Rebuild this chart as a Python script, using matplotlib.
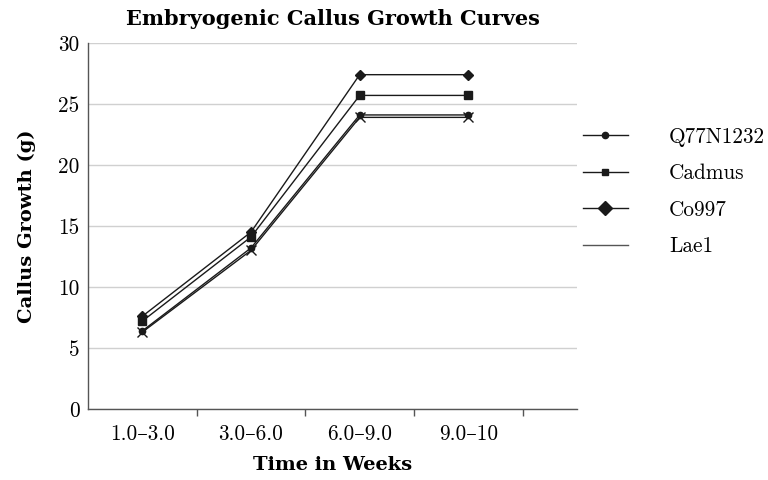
import matplotlib
matplotlib.use("Agg")
import matplotlib.pyplot as plt
from matplotlib.lines import Line2D

# ---- data ----
periods = ["1.0\u20133.0", "3.0\u20136.0", "6.0\u20139.0", "9.0\u201310"]
q77n1232 = [6.4, 13.2, 24.1, 24.1]
cadmus = [7.2, 14.1, 25.7, 25.7]
co997 = [7.6, 14.5, 27.4, 27.4]
lae1 = [6.3, 13.0, 23.9, 23.9]
y_ticks = [0, 5, 10, 15, 20, 25, 30]

REG = ["cmr10", "DejaVu Serif"]
BOLD = ["DejaVu Serif"]
LINE = "#1a1a1a"
FS = 15.3

plt.rcParams["font.family"] = REG
plt.rcParams["axes.unicode_minus"] = False

fig = plt.figure(figsize=(7.68, 4.8), dpi=100)
ax = fig.add_axes([0.1146, 0.148, 0.6367, 0.7625])

x = list(range(len(periods)))
series = [
    ("Q77N1232", q77n1232, "o", 4.5),
    ("Cadmus", cadmus, "s", 5.5),
    ("Co997", co997, "D", 5.5),
    ("Lae1", lae1, "x", 7),
]
for name, vals, mk, ms in series:
    ax.plot(x, vals, color=LINE, lw=1.0, marker=mk, markersize=ms,
            markeredgewidth=1.0, markerfacecolor=LINE, markeredgecolor=LINE,
            zorder=3)

ax.set_xlim(-0.5, 4.0)
ax.set_ylim(0, 30)
ax.set_yticks(y_ticks)
ax.set_yticklabels([str(v) for v in y_ticks], fontsize=FS, family=REG)
ax.set_xticks(x)
ax.set_xticklabels(periods, fontsize=FS, family=REG)
ax.set_xticks([i + 0.5 for i in x], minor=True)
ax.tick_params(axis="x", which="major", length=0, pad=11)
ax.tick_params(axis="x", which="minor", length=5, width=1, color="#555555")
ax.tick_params(axis="y", length=0, pad=6)

ax.grid(axis="y", color="#d0d0d0", lw=1)
ax.set_axisbelow(True)
for s in ("top", "right"):
    ax.spines[s].set_visible(False)
for s in ("left", "bottom"):
    ax.spines[s].set_color("#555555")
    ax.spines[s].set_linewidth(1)

ax.set_title("Embryogenic Callus Growth Curves", family=BOLD, fontsize=15,
             fontweight="bold", pad=13)
ax.set_xlabel("Time in Weeks", family=BOLD, fontsize=14, fontweight="bold",
              labelpad=9)
ax.set_ylabel("Callus Growth (g)", family=BOLD, fontsize=14,
              fontweight="bold", labelpad=16)

handles = [
    Line2D([], [], color=LINE, lw=1, marker="o", markersize=4.5),
    Line2D([], [], color=LINE, lw=1, marker="s", markersize=5),
    Line2D([], [], color=LINE, lw=1, marker="D", markersize=7),
    Line2D([], [], color="#555555", lw=1),
]
fig.legend(handles, [s[0] for s in series], loc="upper left",
           bbox_to_anchor=(0.759, 0.735), frameon=False, borderpad=0,
           borderaxespad=0, handlelength=2.1, handletextpad=1.95,
           labelspacing=0.8, prop={"family": REG, "size": FS})

fig.savefig("out.png", dpi=100)
